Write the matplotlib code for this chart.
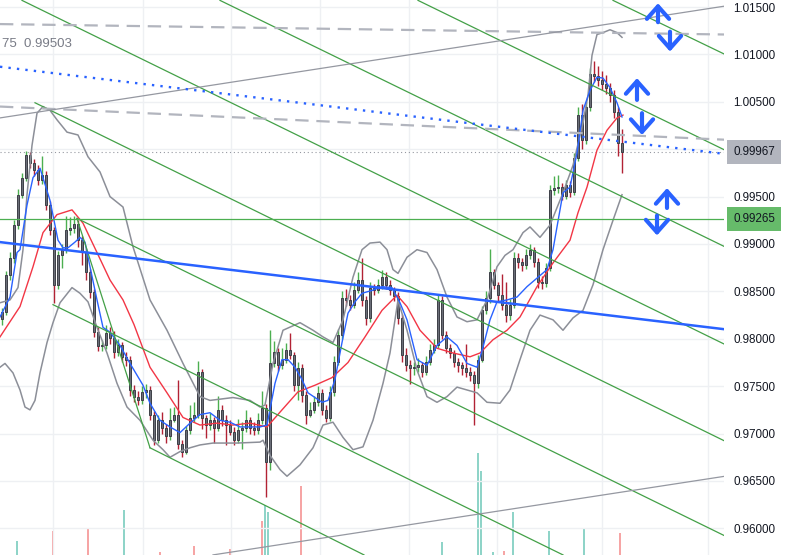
import matplotlib
matplotlib.use("Agg")
import matplotlib.pyplot as plt

plt.rcParams["font.family"] = ["Liberation Sans", "DejaVu Sans"]

# candles (index 0..155), prices
opens = [0.9821, 0.9828, 0.9867, 0.9885, 0.9920, 0.9952, 0.9970, 0.9994, 0.9985, 0.9978,
         0.9967, 0.9973, 0.9941, 0.9915, 0.9857, 0.9888, 0.9894, 0.9915, 0.9917, 0.9921,
         0.9904, 0.9892, 0.9870, 0.9849, 0.9807, 0.9792, 0.9793, 0.9806, 0.9801, 0.9786,
         0.9793, 0.9781, 0.9778, 0.9746, 0.9739, 0.9735, 0.9744, 0.9746, 0.9720, 0.9693,
         0.9714, 0.9706, 0.9697, 0.9714, 0.9720, 0.9689, 0.9681, 0.9704, 0.9716, 0.9720,
         0.9765, 0.9716, 0.9709, 0.9714, 0.9706, 0.9725, 0.9714, 0.9709, 0.9702, 0.9693,
         0.9704, 0.9706, 0.9714, 0.9706, 0.9704, 0.9714, 0.9727, 0.9670, 0.9774, 0.9786,
         0.9772, 0.9778, 0.9788, 0.9783, 0.9751, 0.9769, 0.9741, 0.9720, 0.9725, 0.9733,
         0.9743, 0.9725, 0.9716, 0.9744, 0.9776, 0.9804, 0.9843, 0.9841, 0.9836, 0.9851,
         0.9862, 0.9841, 0.9822, 0.9854, 0.9851, 0.9857, 0.9865, 0.9857, 0.9851, 0.9845,
         0.9822, 0.9783, 0.9772, 0.9769, 0.9770, 0.9772, 0.9765, 0.9776, 0.9788, 0.9793,
         0.9841, 0.9804, 0.9790, 0.9785, 0.9776, 0.9772, 0.9769, 0.9765, 0.9762, 0.9753,
         0.9778, 0.9830, 0.9843, 0.9870, 0.9857, 0.9846, 0.9836, 0.9825, 0.9836, 0.9885,
         0.9881, 0.9878, 0.9888, 0.9894, 0.9881, 0.9860, 0.9859, 0.9875, 0.9957, 0.9959,
         0.9960, 0.9951, 0.9962, 0.9955, 0.9991, 1.0036, 1.0010, 1.0044, 1.0079, 1.0077,
         1.0073, 1.0069, 1.0065, 1.0057, 1.0039, 1.0007]
closes = [0.9828, 0.9867, 0.9885, 0.9920, 0.9952, 0.9970, 0.9994, 0.9985, 0.9978, 0.9967,
          0.9973, 0.9941, 0.9915, 0.9857, 0.9888, 0.9894, 0.9915, 0.9917, 0.9921, 0.9904,
          0.9892, 0.9870, 0.9849, 0.9807, 0.9792, 0.9793, 0.9806, 0.9801, 0.9786, 0.9793,
          0.9781, 0.9778, 0.9746, 0.9739, 0.9735, 0.9744, 0.9746, 0.9720, 0.9693, 0.9714,
          0.9706, 0.9697, 0.9714, 0.9720, 0.9689, 0.9681, 0.9704, 0.9716, 0.9720, 0.9765,
          0.9716, 0.9709, 0.9714, 0.9706, 0.9725, 0.9714, 0.9709, 0.9702, 0.9693, 0.9704,
          0.9706, 0.9714, 0.9706, 0.9704, 0.9714, 0.9727, 0.9670, 0.9774, 0.9786, 0.9772,
          0.9778, 0.9788, 0.9783, 0.9751, 0.9769, 0.9741, 0.9720, 0.9725, 0.9733, 0.9743,
          0.9725, 0.9716, 0.9744, 0.9776, 0.9804, 0.9843, 0.9841, 0.9836, 0.9851, 0.9862,
          0.9841, 0.9822, 0.9854, 0.9851, 0.9857, 0.9865, 0.9857, 0.9851, 0.9845, 0.9822,
          0.9783, 0.9772, 0.9769, 0.9770, 0.9772, 0.9765, 0.9776, 0.9788, 0.9793, 0.9841,
          0.9804, 0.9790, 0.9785, 0.9776, 0.9772, 0.9769, 0.9765, 0.9762, 0.9753, 0.9778,
          0.9830, 0.9843, 0.9870, 0.9857, 0.9846, 0.9836, 0.9825, 0.9836, 0.9885, 0.9881,
          0.9878, 0.9888, 0.9894, 0.9881, 0.9860, 0.9859, 0.9875, 0.9957, 0.9959, 0.9960,
          0.9951, 0.9962, 0.9955, 0.9991, 1.0036, 1.0010, 1.0044, 1.0079, 1.0077, 1.0073,
          1.0069, 1.0065, 1.0057, 1.0039, 1.0007, 0.99967]
highs = [0.9832, 0.9872, 0.9892, 0.9925, 0.9958, 0.9975, 0.9998, 0.9997, 0.9990, 0.9983,
         0.9993, 0.9977, 0.9945, 0.9918, 0.9893, 0.9900, 0.9930, 0.9928, 0.9930, 0.9925,
         0.9908, 0.9896, 0.9874, 0.9852, 0.9812, 0.9799, 0.9815, 0.9812, 0.9808, 0.9800,
         0.9797, 0.9786, 0.9782, 0.9751, 0.9745, 0.9750, 0.9752, 0.9750, 0.9724, 0.9720,
         0.9723, 0.9710, 0.9727, 0.9728, 0.9757, 0.9693, 0.9708, 0.9730, 0.9733, 0.9777,
         0.9768, 0.9720, 0.9722, 0.9718, 0.9740, 0.9730, 0.9720, 0.9714, 0.9707, 0.9715,
         0.9712, 0.9725, 0.9718, 0.9712, 0.9722, 0.9745, 0.9731, 0.9809, 0.9798, 0.9790,
         0.9790, 0.9796, 0.9806, 0.9786, 0.9776, 0.9773, 0.9745, 0.9733, 0.9740, 0.9750,
         0.9747, 0.9730, 0.9750, 0.9782, 0.9810, 0.9850, 0.9852, 0.9846, 0.9860, 0.9870,
         0.9885, 0.9845, 0.9860, 0.9858, 0.9863, 0.9873, 0.9870, 0.9862, 0.9855, 0.9849,
         0.9826, 0.9790, 0.9778, 0.9775, 0.9780, 0.9776, 0.9782, 0.9795, 0.9800, 0.9847,
         0.9845, 0.9808, 0.9795, 0.9788, 0.9780, 0.9776, 0.9795, 0.9770, 0.9766, 0.9783,
         0.9835, 0.9850, 0.9895, 0.9874, 0.9860, 0.9868, 0.9860, 0.9842, 0.9892, 0.9890,
         0.9885, 0.9895, 0.9900, 0.9897, 0.9885, 0.9866, 0.9880, 0.9962, 0.9972, 0.9973,
         0.9964, 0.9968, 0.9966, 0.9996, 1.0045, 1.0048, 1.0050, 1.0086, 1.0093, 1.0088,
         1.0083, 1.0078, 1.0070, 1.0062, 1.0045, 1.0021]
lows = [0.9815, 0.9825, 0.9862, 0.9880, 0.9916, 0.9948, 0.9966, 0.9980, 0.9972, 0.9962,
        0.9963, 0.9936, 0.9910, 0.9838, 0.9852, 0.9875, 0.9890, 0.9910, 0.9912, 0.9897,
        0.9878, 0.9862, 0.9843, 0.9802, 0.9787, 0.9787, 0.9789, 0.9795, 0.9780, 0.9782,
        0.9775, 0.9771, 0.9740, 0.9733, 0.9730, 0.9731, 0.9738, 0.9714, 0.9688, 0.9690,
        0.9700, 0.9690, 0.9693, 0.9712, 0.9684, 0.9675, 0.9678, 0.9700, 0.9712, 0.9716,
        0.9705, 0.9695, 0.9704, 0.9690, 0.9703, 0.9708, 0.9688, 0.9698, 0.9688, 0.9690,
        0.9684, 0.9702, 0.9700, 0.9698, 0.9700, 0.9710, 0.9633, 0.9662, 0.9770, 0.9766,
        0.9768, 0.9774, 0.9779, 0.9745, 0.9735, 0.9733, 0.9710, 0.9717, 0.9722, 0.9729,
        0.9720, 0.9712, 0.9713, 0.9740, 0.9772, 0.9800, 0.9835, 0.9830, 0.9832, 0.9848,
        0.9835, 0.9815, 0.9818, 0.9846, 0.9848, 0.9853, 0.9852, 0.9846, 0.9840, 0.9816,
        0.9776, 0.9766, 0.9752, 0.9762, 0.9765, 0.9760, 0.9762, 0.9772, 0.9785, 0.9790,
        0.9800, 0.9785, 0.9780, 0.9770, 0.9765, 0.9762, 0.9760, 0.9755, 0.9709, 0.9748,
        0.9775, 0.9826, 0.9838, 0.9852, 0.9840, 0.9830, 0.9818, 0.9820, 0.9832, 0.9875,
        0.9872, 0.9874, 0.9884, 0.9876, 0.9854, 0.9852, 0.9855, 0.9872, 0.9952, 0.9954,
        0.9946, 0.9947, 0.9950, 0.9952, 0.9988, 1.0000, 1.0005, 1.0040, 1.0071, 1.0067,
        1.0062, 1.0058, 1.0050, 1.0033, 0.9993, 0.9975]

# indicator lines as (candle index, price)
fast_ma = [(-0.5, 0.9823), (2, 0.9844), (3.75, 0.9891), (4.5, 0.9894), (6.25, 0.9941),
           (7.75, 0.9970), (9.5, 0.9980), (12, 0.9946), (14, 0.9904), (15.25, 0.9896),
           (16.5, 0.9896), (18.25, 0.9902), (19.5, 0.9907), (20.75, 0.9902), (22, 0.9876),
           (23.75, 0.9841), (25.25, 0.9812), (27, 0.9807), (29.5, 0.9793), (32, 0.9774),
           (35.25, 0.9751), (37, 0.9732), (39.5, 0.9714), (42, 0.9707), (44.5, 0.9701),
           (47, 0.9711), (49.5, 0.9720), (52, 0.9722), (54.5, 0.9714), (57, 0.9712),
           (59.5, 0.9707), (62, 0.9707), (64.5, 0.9707), (66.25, 0.9709), (68.25, 0.9753),
           (70, 0.9778), (71.5, 0.9778), (73.25, 0.9770), (75, 0.9757), (76.5, 0.9743),
           (78.25, 0.9738), (80, 0.9733), (81.5, 0.9735), (83.25, 0.9757), (85, 0.9796),
           (86.5, 0.9827), (88.25, 0.9839), (90, 0.9848), (92.5, 0.9851), (95, 0.9855),
           (97.5, 0.9854), (99.5, 0.9838), (101.25, 0.9820), (103.75, 0.9778), (106.25, 0.9772),
           (108.75, 0.9793), (111.25, 0.9802), (113.75, 0.9793), (116.25, 0.9774),
           (118.75, 0.9770), (120.25, 0.9791), (122, 0.9820), (123.75, 0.9839),
           (126.25, 0.9841), (128.75, 0.9844), (131.25, 0.9855), (133.75, 0.9864),
           (136.25, 0.9873), (137.75, 0.9894), (140.25, 0.9954), (142, 0.9960),
           (143.75, 0.9996), (145.25, 1.0041), (147, 1.0062), (148.75, 1.0076),
           (150.25, 1.0075), (152, 1.0065), (153.75, 1.0049), (155, 1.0034)]
slow_ma = [(-0.5, 0.9802), (4.5, 0.9834), (7.75, 0.9876), (10.25, 0.9912), (13.75, 0.9931),
           (17.5, 0.9936), (20.25, 0.9922), (23.75, 0.9891), (27, 0.9862), (30.25, 0.9841),
           (33, 0.9815), (37, 0.9770), (41.25, 0.9743), (45.25, 0.9717), (49.5, 0.9709),
           (53.75, 0.9711), (57.75, 0.9709), (62, 0.9711), (66.25, 0.9707), (70, 0.9725),
           (74, 0.9744), (78.25, 0.9751), (82.5, 0.9759), (86.5, 0.9775), (90.75, 0.9802),
           (95, 0.9830), (98.75, 0.9846), (101.25, 0.9834), (104.5, 0.9809), (108.75, 0.9790),
           (112.75, 0.9785), (117, 0.9781), (119.5, 0.9785), (122.75, 0.9799),
           (126.25, 0.9809), (129.5, 0.9823), (133.75, 0.9855), (137.75, 0.9880),
           (142, 0.9904), (144, 0.9933), (146.25, 0.9960), (148.75, 0.9999),
           (151.25, 1.0020), (153.75, 1.0033), (155.25, 1.0036)]
band_upper = [(-0.5, 0.9838), (2, 0.9841), (4, 0.9854), (5.25, 0.9894), (6.25, 0.9952),
              (7.5, 1.0004), (8.75, 1.0038), (10.25, 1.0045), (12, 1.0041), (13.75, 1.0031),
              (16.25, 1.0018), (19, 1.0015), (21.5, 0.9992), (24.5, 0.9976), (27, 0.9950),
              (30.25, 0.9939), (32.75, 0.9897), (37, 0.9841), (41.25, 0.9809), (45.25, 0.9774),
              (49.5, 0.9739), (52, 0.9735), (57.75, 0.9738), (62, 0.9735), (64.5, 0.9728),
              (65.75, 0.9730), (67.75, 0.9774), (70.25, 0.9809), (74.5, 0.9817),
              (77.75, 0.9809), (80.25, 0.9802), (82.75, 0.9796), (85.25, 0.9820),
              (87.75, 0.9865), (90, 0.9894), (92, 0.9901), (94.5, 0.9902), (96.25, 0.9894),
              (97.75, 0.9873), (99, 0.9869), (101.25, 0.9886), (103.75, 0.9894),
              (106.25, 0.9891), (108.75, 0.9873), (111.25, 0.9844), (113.75, 0.9823),
              (116.25, 0.9818), (118.75, 0.9820), (121.25, 0.9841), (123.75, 0.9876),
              (125.75, 0.9888), (127.75, 0.9894), (130.25, 0.9912), (132, 0.9918),
              (134.5, 0.9907), (137, 0.9920), (140.25, 0.9954), (142.75, 0.9983),
              (145.25, 1.0028), (146.5, 1.0057), (147.5, 1.0099), (148.75, 1.0121),
              (150.25, 1.0123), (152, 1.0126), (153.75, 1.0123), (155, 1.0118)]
band_lower = [(-0.5, 0.9770), (0.75, 0.9774), (2.75, 0.9764), (4.5, 0.9746), (5.75, 0.9728),
              (7, 0.9725), (8.25, 0.9735), (9.5, 0.9764), (11.25, 0.9796), (12.75, 0.9817),
              (14.5, 0.9838), (17.5, 0.9854), (19.5, 0.9848), (21.5, 0.9839), (23.75, 0.9812),
              (26.25, 0.9785), (28.75, 0.9753), (31.25, 0.9728), (34.5, 0.9714),
              (37.75, 0.9693), (40.25, 0.9683), (42, 0.9675), (44.5, 0.9681), (47, 0.9685),
              (49.5, 0.9688), (52.75, 0.9690), (58.75, 0.9690), (64.5, 0.9691),
              (65.25, 0.9693), (67, 0.9677), (69.5, 0.9662), (71.25, 0.9655), (74.5, 0.9667),
              (77.75, 0.9685), (80.25, 0.9709), (82.75, 0.9712), (85.25, 0.9696),
              (87.75, 0.9683), (90.25, 0.9686), (92.75, 0.9714), (95.25, 0.9753),
              (97, 0.9785), (99, 0.9841), (101.25, 0.9809), (103.75, 0.9767),
              (106.25, 0.9739), (108.75, 0.9733), (111.25, 0.9739), (113.75, 0.9749),
              (116.25, 0.9746), (118.75, 0.9743), (121.25, 0.9733), (124.5, 0.9732),
              (127, 0.9746), (129.5, 0.9778), (132, 0.9809), (134.5, 0.9825),
              (137.75, 0.9820), (140.25, 0.9809), (142.75, 0.9822), (145.25, 0.9830),
              (147.75, 0.9857), (150.25, 0.9894), (152.75, 0.9925), (155, 0.9952)]

# volume (arbitrary units)
vol_x = [3.75, 12.75, 21.5, 30.5, 39.5, 48, 57, 65, 65.75, 66.5, 74.75, 110, 119, 119.75,
         122.75, 125.5, 127.75, 136.75, 145.5, 154.5]
vol = [14, 24, 27, 45, 3, 9, 6, 34, 50, 43, 69, 13, 102, 84, 3, 4, 43, 24, 26, 22]
vol_up = [1, 0, 0, 1, 0, 0, 0, 0, 1, 1, 0, 1, 1, 1, 1, 0, 1, 1, 1, 0]

# drawn objects: ((index, price), (index, price))
green_lines = [((152.75, 1.0157), (180.75, 1.0100)),
               ((104, 1.0157), (180.75, 0.9999)),
               ((54.5, 1.0157), (180.75, 0.9897)),
               ((5, 1.0157), (180.75, 0.9794)),
               ((8.25, 1.0049), (180.75, 0.9692)),
               ((18.75, 0.9927), (180.75, 0.9592)),
               ((12.75, 0.9836), (140.25, 0.9572)),
               ((37, 0.9685), (90.5, 0.9572)),
               ((18.75, 0.9927), (37, 0.9685))]
dashed_lines = [((-0.5, 1.0132), (180.75, 1.0121)),
                ((-0.5, 1.0045), (180.75, 1.0010))]
gray_lines = [((-0.5, 1.0033), (180.75, 1.0151)),
              ((52.75, 0.9572), (180.75, 0.9655))]
blue_dotted = ((-0.5, 1.0087), (180.75, 0.9995))
blue_solid = ((-0.5, 0.9902), (180.75, 0.9810))
support = 0.99265
last_price = 0.99967

arrow_x = [164, 167, 158.75, 160, 166.25, 163.75]
arrow_from = [1.0134, 1.0124, 1.0052, 1.0038, 0.9938, 0.9930]
arrow_to = [1.0154, 1.0103, 1.0075, 1.0015, 0.9959, 0.9909]

levels = [1.015, 1.010, 1.005, 1.000, 0.995, 0.990, 0.985, 0.980, 0.975, 0.970, 0.965, 0.960]
vgrid = [12.75, 35.25, 57.25, 79.5, 101.75, 123.75, 150, 176.5]

GREEN = "#43a047"
BLUE = "#2962ff"

fig = plt.figure(figsize=(7.9, 5.55), dpi=100)
ax = fig.add_axes([0, 0, 724 / 790, 1])
ax2 = ax.twinx()
ax.set_zorder(ax2.get_zorder() + 1)
ax.patch.set_visible(False)

ax2.bar(vol_x, vol, width=0.28, linewidth=0,
        color=["#8fd4c8" if u else "#f6a5a5" for u in vol_up])
ax2.set_ylim(0, 555)
ax2.axis("off")

ax.set_xlim(-0.5, 180.5)
ax.set_ylim(0.95719, 1.01574)

# candles
xs = list(range(len(closes)))
for i in xs:
    up = closes[i] >= opens[i]
    ax.vlines(i, lows[i], highs[i], color="#4caf50" if up else "#b22234", lw=1, zorder=3)
bottoms = [min(o, c) for o, c in zip(opens, closes)]
heights = [max(abs(c - o), 0.00006) for o, c in zip(opens, closes)]
ax.bar(xs, heights, bottom=bottoms, width=0.66, color="#6b6e78",
       edgecolor="#3d3f47", linewidth=0.7, zorder=4)

for pts, col, lw in [(band_upper, "#8c8f98", 1.1), (band_lower, "#8c8f98", 1.1),
                     (slow_ma, "#f23645", 1.0), (fast_ma, BLUE, 1.0)]:
    ax.plot([p[0] for p in pts], [p[1] for p in pts], color=col, lw=lw, zorder=5)

# drawings
for (a, b) in green_lines:
    ax.plot([a[0], b[0]], [a[1], b[1]], color=GREEN, lw=0.9, zorder=6)
for (a, b) in dashed_lines:
    ax.plot([a[0], b[0]], [a[1], b[1]], color="#b2b5be", lw=1.6,
            linestyle=(0, (6, 3.5)), zorder=6)
for (a, b) in gray_lines:
    ax.plot([a[0], b[0]], [a[1], b[1]], color="#9598a1", lw=0.9, zorder=6)
a, b = blue_dotted
ax.plot([a[0], b[0]], [a[1], b[1]], color=BLUE, lw=1.7, linestyle=(0, (1, 2.6)), zorder=6)
a, b = blue_solid
ax.plot([a[0], b[0]], [a[1], b[1]], color=BLUE, lw=1.8, zorder=6)
ax.axhline(support, color="#4caf50", lw=0.9, zorder=6)
ax.axhline(last_price, color="#9598a1", lw=0.8, linestyle=(0, (1, 2.5)), zorder=2)

for x, p0, p1 in zip(arrow_x, arrow_from, arrow_to):
    ax.annotate("", xy=(x, p1), xytext=(x, p0), zorder=7,
                arrowprops=dict(arrowstyle="->,head_length=0.45,head_width=0.4",
                                color=BLUE, lw=3, mutation_scale=20,
                                shrinkA=0, shrinkB=0))

# grid and axes
ax.set_xticks(vgrid)
ax.set_yticks(levels)
ax.set_yticklabels(["" if abs(v - 1.0) < 1e-9 else "%.5f" % v for v in levels])
ax.grid(True, color="#eef0f3", lw=1, zorder=0)
ax.set_axisbelow(True)
ax.yaxis.tick_right()
ax.tick_params(axis="y", length=0, pad=6.5, labelsize=8.4, labelcolor="#131722")
ax.tick_params(axis="x", length=0, labelbottom=False)
for s in ax.spines.values():
    s.set_visible(False)

lx = 1 + 9 / 724
ax.text(lx, last_price, "0.99967", transform=ax.get_yaxis_transform(), ha="left",
        va="center", fontsize=8.4, color="#131722", clip_on=False,
        bbox=dict(boxstyle="square,pad=0.5", fc="#b2b5be", ec="none"))
ax.text(lx, support, "0.99265", transform=ax.get_yaxis_transform(), ha="left",
        va="center", fontsize=8.4, color="#131722", clip_on=False,
        bbox=dict(boxstyle="square,pad=0.5", fc="#66bb6a", ec="none"))

ax.text(2 / 724, 1 - 44 / 555, "75  0.99503", transform=ax.transAxes, ha="left",
        va="center", fontsize=9.5, color="#787b86")

fig.savefig("out.png", dpi=100, facecolor="white")
